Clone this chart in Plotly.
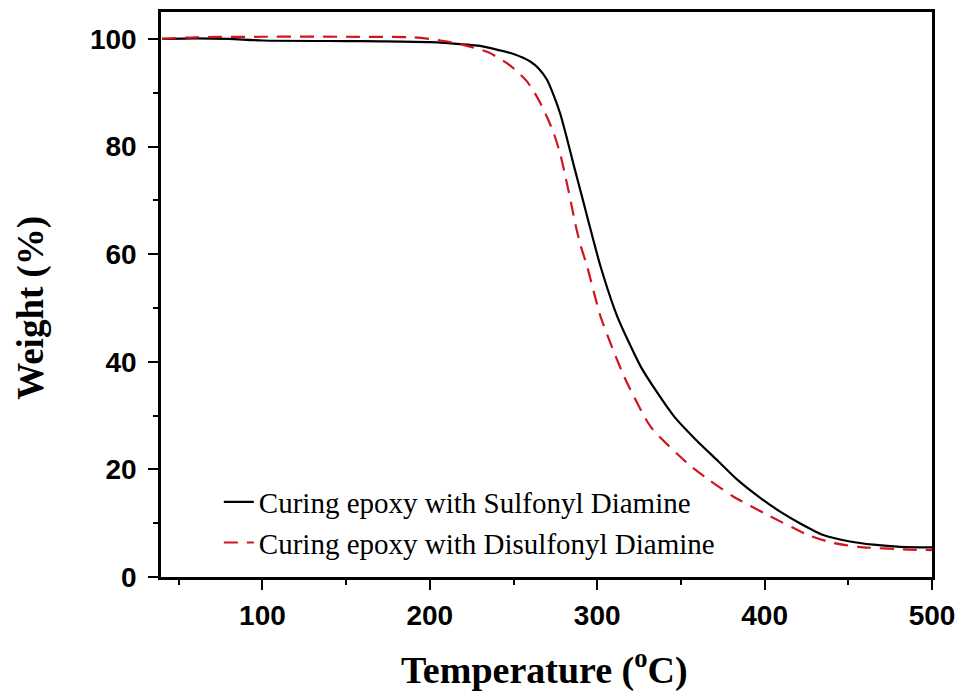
import plotly.graph_objects as go

# dados (temperatura em C, massa em %)
temp_sulfonil = [40, 60, 80, 100, 150, 170, 200, 220, 230, 240, 250, 260, 265, 270, 274, 278,
                 282, 286, 291, 295, 302, 312, 326, 336, 346, 358, 372, 384, 397, 410, 421, 435,
                 451, 465, 481, 500]
peso_sulfonil = [100, 100.1, 100, 99.7, 99.6, 99.55, 99.4, 99.0, 98.7, 98.0, 97.2, 95.8, 94.5,
                 92.4, 89.5, 86.0, 81.4, 76.5, 70.6, 65.8, 57.7, 48.4, 39.1, 34.2, 29.8, 25.8,
                 21.6, 18.0, 14.8, 12.0, 10.0, 7.8, 6.6, 6.0, 5.6, 5.5]

temp_dissulfonil = [40, 60, 100, 150, 190, 205, 220, 235, 246, 252, 258, 262, 266, 270, 274, 278,
                    281, 284, 287, 290, 294, 302, 316, 332, 354, 367, 381, 402, 426, 440, 456,
                    486, 500]
peso_dissulfonil = [100, 100.3, 100.4, 100.4, 100.3, 99.8, 98.9, 97.5, 95.5, 94.0, 92.1, 90.3, 88.1,
                    85.5, 82.5, 78.5, 74.4, 70.1, 65.5, 61.7, 57.7, 48.4, 37.3, 27.9, 21.1, 18.0,
                    15.0, 11.5, 7.8, 6.4, 5.6, 5.1, 5.0]

fonte_serif = 'Times New Roman, Liberation Serif, serif'
fonte_sans = 'Arial, Liberation Sans, sans-serif'

fig = go.Figure()
fig.add_trace(go.Scatter(x=temp_sulfonil, y=peso_sulfonil, mode='lines',
                         line=dict(color='black', width=2.2, shape='spline', smoothing=0.6),
                         name='Curing epoxy with Sulfonyl Diamine'))
fig.add_trace(go.Scatter(x=temp_dissulfonil, y=peso_dissulfonil, mode='lines',
                         line=dict(color='#d2141e', width=2.2, dash='14px,9px',
                                   shape='spline', smoothing=0.6),
                         name='Curing epoxy with Disulfonyl Diamine'))

fig.update_layout(width=961, height=695,
                  margin=dict(l=161, r=29, t=12, b=118),
                  plot_bgcolor='white', paper_bgcolor='white',
                  showlegend=True,
                  legend=dict(x=0.075, y=0.178, xanchor='left', yanchor='top',
                              bgcolor='rgba(0,0,0,0)',
                              font=dict(family=fonte_serif, size=29, color='black'),
                              tracegroupgap=0, itemwidth=30))

eixo = dict(showgrid=False, zeroline=False, showline=True, linewidth=2.5, linecolor='black',
            mirror=True, ticks='outside', ticklen=10, tickwidth=2, tickcolor='black',
            automargin=False,
            tickfont=dict(family=fonte_sans, size=28, color='black', weight='bold'))

fig.update_xaxes(range=[39.4, 500], tickvals=[100, 200, 300, 400, 500],
                 ticklabelstandoff=2,
                 minor=dict(tickvals=[50, 150, 250, 350, 450], ticks='outside', ticklen=5,
                            tickwidth=2, tickcolor='black'),
                 **eixo)
fig.update_yaxes(range=[0, 105], tickvals=[0, 20, 40, 60, 80, 100],
                 ticklabelstandoff=6,
                 minor=dict(tickvals=[10, 30, 50, 70, 90], ticks='outside', ticklen=5,
                            tickwidth=2, tickcolor='black'),
                 **eixo)

# titulos dos eixos
fig.add_annotation(text='Temperature (<sup>o</sup>C)', xref='paper', yref='paper',
                   x=0.498, y=-0.16, xanchor='center', yanchor='middle', showarrow=False,
                   font=dict(family=fonte_serif, size=38, color='black', weight='bold'))
fig.add_annotation(text='Weight (%)', xref='paper', yref='paper', textangle=-90,
                   x=-0.169, y=0.476, xanchor='center', yanchor='middle', showarrow=False,
                   font=dict(family=fonte_serif, size=37, color='black', weight='bold'))

# remove a margem padrao do body para o grafico ocupar a janela toda
fig.write_html('out.html', config={'displayModeBar': False},
               post_script="document.body.style.margin='0';")
